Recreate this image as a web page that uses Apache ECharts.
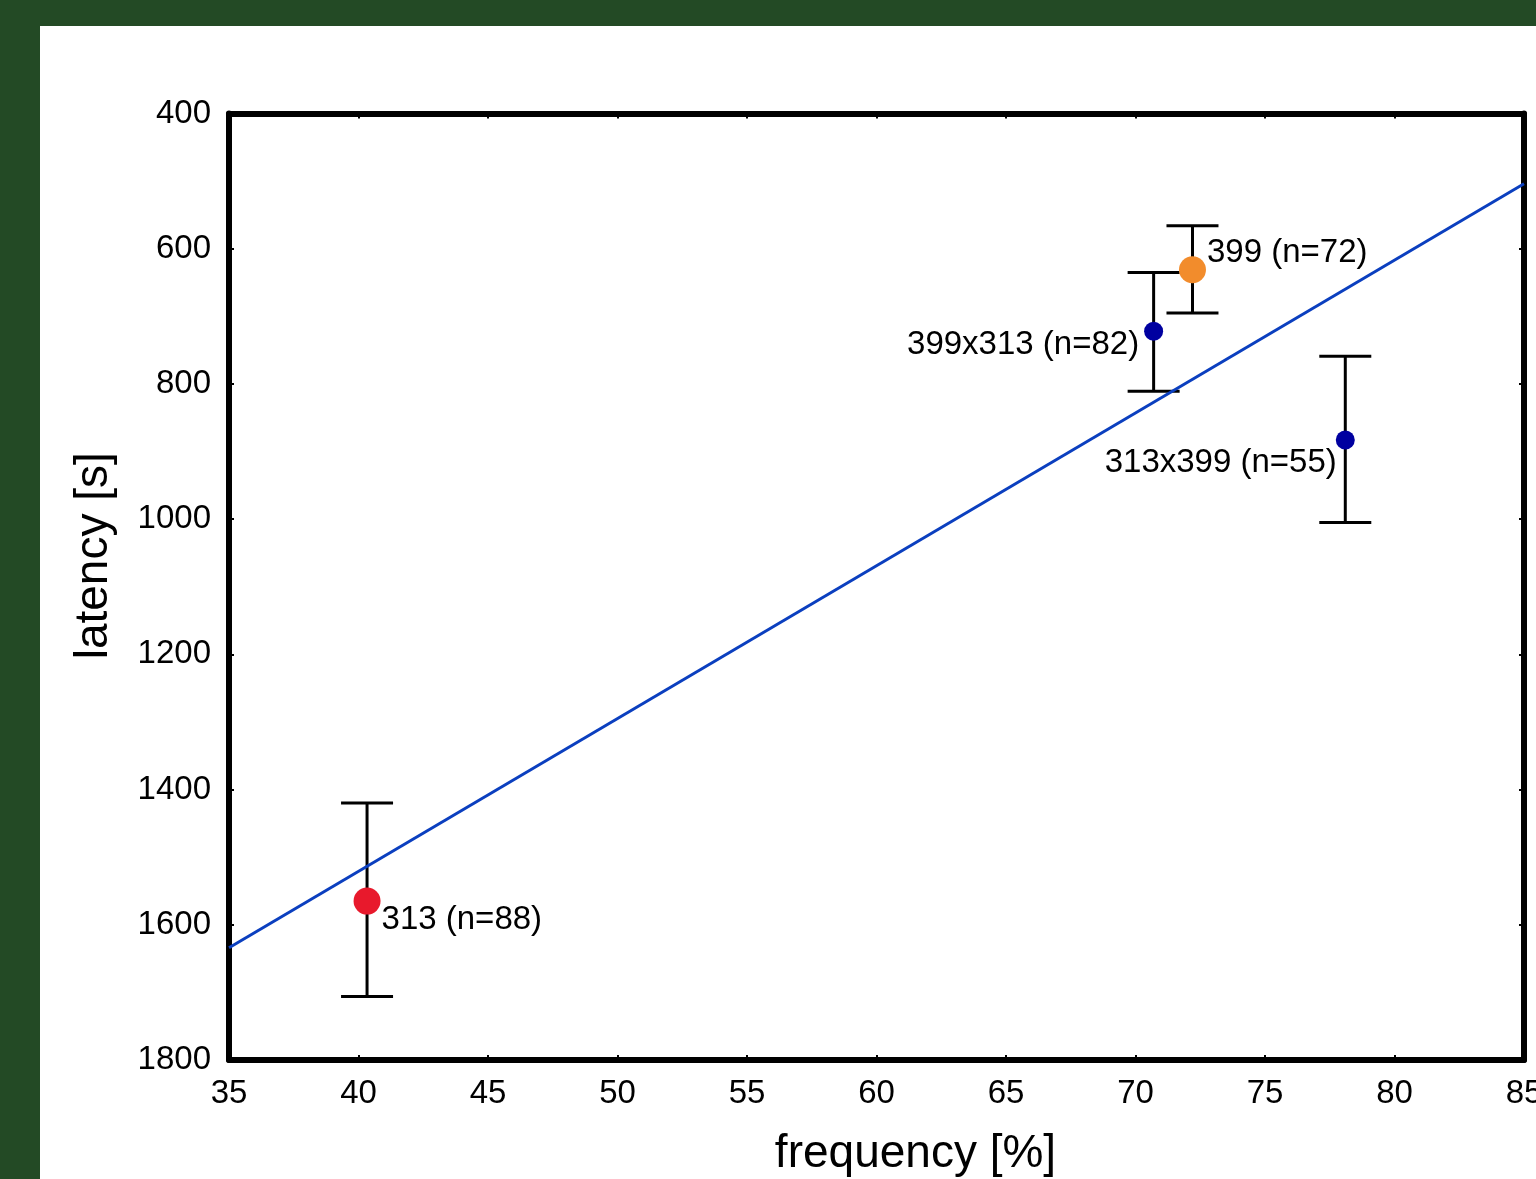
<!DOCTYPE html>
<html>
<head>
<meta charset="utf-8">
<script src="https://cdn.jsdelivr.net/npm/echarts@6/dist/echarts.min.js"></script>
<style>
  html, body { margin: 0; padding: 0; width: 1536px; height: 1179px; overflow: hidden; background: #234a25; }
  #panel { position: absolute; left: 40px; top: 26px; width: 1496px; height: 1153px; background: #ffffff; }
  #chart { width: 1496px; height: 1153px; }
</style>
</head>
<body>
<div id="panel"><div id="chart"></div></div>
<script>
// Groups and sample sizes
const groups = ['313', '399', '399x313', '313x399'];
const sampleSizes = [88, 72, 82, 55];
// Mean frequency [%] and mean latency [s]
const frequency = [40.33, 72.2, 70.7, 78.1];
const latency = [1565, 631, 722, 883];
// Error bar ends for latency [s]
const latencyLow = [1420, 566, 635, 759];
const latencyHigh = [1706, 695, 811, 1005];
// Marker colours and sizes
const markerColors = ['#e8192c', '#f28c2c', '#0000a0', '#0000a0'];
const markerSizes = [27, 27, 19, 19];
// Linear fit end points
const fitX = [35, 85];
const fitY = [1634, 504];
// Axis tick values
const xTicks = [35, 40, 45, 50, 55, 60, 65, 70, 75, 80, 85];
const yTicks = [400, 600, 800, 1000, 1200, 1400, 1600, 1800];

const FONT = '"Liberation Sans", Arial, Helvetica, sans-serif';

// Label placement per group
const labelPlacement = [
  { position: 'right', distance: 1, offset: [0, 19] },
  { position: 'right', distance: 1, offset: [0, -17] },
  { position: 'left', distance: 5, offset: [0, 14] },
  { position: 'left', distance: -1, offset: [0, 23] }
];

const scatterData = groups.map((g, i) => ({
  value: [frequency[i], latency[i]],
  name: g,
  symbolSize: markerSizes[i],
  itemStyle: { color: markerColors[i], opacity: 1 },
  label: Object.assign({
    show: true,
    formatter: g + ' (n=' + sampleSizes[i] + ')',
    color: '#000',
    fontSize: 33,
    fontFamily: FONT
  }, labelPlacement[i])
}));

const errorData = groups.map((g, i) => [frequency[i], latencyLow[i], latencyHigh[i]]);

const frameLine = { show: true, onZero: false, lineStyle: { color: '#000', width: 6 } };
const innerTick = { show: true, inside: true, length: 5, lineStyle: { color: '#000', width: 2 } };

const xBase = { type: 'value', min: xTicks[0], max: xTicks[xTicks.length - 1], interval: 5,
  splitLine: { show: false }, axisLine: frameLine, axisTick: innerTick };
const yBase = { type: 'value', min: yTicks[0], max: yTicks[yTicks.length - 1], interval: 200, inverse: true,
  splitLine: { show: false }, axisLine: frameLine, axisTick: innerTick };

const chart = echarts.init(document.getElementById('chart'), null, { renderer: 'canvas', width: 1496, height: 1153 });
chart.setOption({
  animation: false,
  textStyle: { fontFamily: FONT },
  grid: { left: 189, top: 87.5, right: 12, bottom: 119, containLabel: false, outerBoundsMode: 'none' },
  xAxis: [
    Object.assign({}, xBase, {
      position: 'bottom',
      name: 'frequency [%]', nameLocation: 'middle', nameGap: 71,
      nameTextStyle: { fontSize: 46, color: '#000', fontFamily: FONT, padding: [0, 0, 0, 78] },
      axisLabel: { color: '#000', fontSize: 33, margin: 17, fontFamily: FONT,
        formatter: function (v) { return String(v); } }
    }),
    Object.assign({}, xBase, { position: 'top', axisLabel: { show: false } })
  ],
  yAxis: [
    Object.assign({}, yBase, {
      position: 'left',
      name: 'latency [s]', nameLocation: 'middle', nameGap: 112, nameRotate: 90,
      nameTextStyle: { fontSize: 46, color: '#000', fontFamily: FONT, padding: [0, 0, 0, 62] },
      axisLabel: { color: '#000', fontSize: 33, margin: 18, fontFamily: FONT,
        formatter: function (v) { return String(v); } }
    }),
    Object.assign({}, yBase, { position: 'right', axisLabel: { show: false } })
  ],
  series: [
    {
      type: 'line',
      data: fitX.map((x, i) => [x, fitY[i]]),
      showSymbol: false,
      symbol: 'none',
      lineStyle: { color: '#0b3fbf', width: 3 },
      z: 3,
      silent: true
    },
    {
      type: 'custom',
      data: errorData,
      z: 2,
      renderItem: function (params, api) {
        const x = api.value(0);
        const top = api.coord([x, api.value(1)]);
        const bot = api.coord([x, api.value(2)]);
        const hw = 26;
        const style = { stroke: '#000', lineWidth: 3 };
        return {
          type: 'group',
          children: [
            { type: 'line', shape: { x1: top[0], y1: top[1], x2: bot[0], y2: bot[1] }, style: style },
            { type: 'line', shape: { x1: top[0] - hw, y1: top[1], x2: top[0] + hw, y2: top[1] }, style: style },
            { type: 'line', shape: { x1: bot[0] - hw, y1: bot[1], x2: bot[0] + hw, y2: bot[1] }, style: style }
          ]
        };
      }
    },
    {
      type: 'scatter',
      data: scatterData,
      symbol: 'circle',
      z: 4
    }
  ]
});
</script>
</body>
</html>
